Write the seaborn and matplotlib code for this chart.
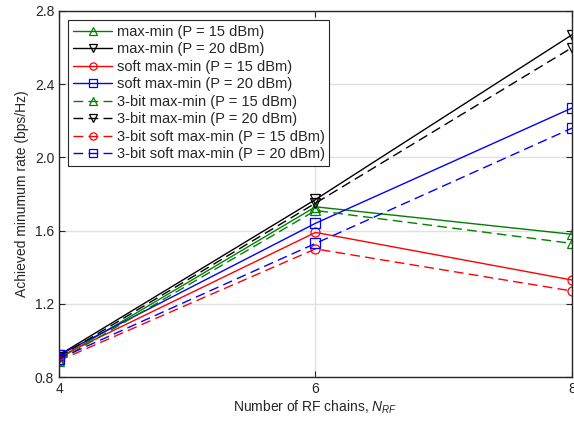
import matplotlib
matplotlib.use("Agg")
import matplotlib.pyplot as plt
import seaborn as sns
import pandas as pd

n_rf = [4, 6, 8]
maxmin_15 = [0.90, 1.73, 1.58]
maxmin_20 = [0.92, 1.77, 2.67]
soft_15 = [0.91, 1.59, 1.33]
soft_20 = [0.92, 1.64, 2.27]
bit3_maxmin_15 = [0.89, 1.71, 1.53]
bit3_maxmin_20 = [0.91, 1.75, 2.60]
bit3_soft_15 = [0.89, 1.50, 1.27]
bit3_soft_20 = [0.90, 1.53, 2.16]

labels = ["max-min (P = 15 dBm)", "max-min (P = 20 dBm)",
          "soft max-min (P = 15 dBm)", "soft max-min (P = 20 dBm)",
          "3-bit max-min (P = 15 dBm)", "3-bit max-min (P = 20 dBm)",
          "3-bit soft max-min (P = 15 dBm)", "3-bit soft max-min (P = 20 dBm)"]
series = [maxmin_15, maxmin_20, soft_15, soft_20,
          bit3_maxmin_15, bit3_maxmin_20, bit3_soft_15, bit3_soft_20]
colors = ["#008000", "black", "red", "blue", "#008000", "black", "red", "blue"]
markers = ["^", "v", "o", "s", "^", "v", "o", "s"]
dashed = (0, (7, 3.8))
styles = ["-", "-", "-", "-", dashed, dashed, dashed, dashed]

sns.set_style("white")
plt.rcParams['font.family'] = ['Liberation Sans', 'DejaVu Sans']
plt.rcParams['mathtext.fontset'] = 'custom'
plt.rcParams['mathtext.it'] = 'Liberation Sans:italic'
plt.rcParams['mathtext.rm'] = 'Liberation Sans'

fig = plt.figure(figsize=(5.74, 4.23), dpi=100)
ax = fig.add_axes([0.1028, 0.1087, 0.8937, 0.8653])

for lab, vals, c, m, ls in zip(labels, series, colors, markers, styles):
    df = pd.DataFrame({"x": n_rf, "y": vals})
    sns.lineplot(data=df, x="x", y="y", ax=ax, color=c, marker=m, linestyle=ls,
                 markersize=6.5, markerfacecolor="none", markeredgecolor=c,
                 markeredgewidth=0.9, linewidth=1.0, label=lab)

ax.set_xlim(4, 8)
ax.set_ylim(0.8, 2.8)
ax.set_xticks([4, 6, 8])
ax.set_yticks([0.8, 1.2, 1.6, 2.0, 2.4, 2.8])
ax.set_yticklabels(["0.8", "1.2", "1.6", "2.0", "2.4", "2.8"])
ax.grid(True, color="#e0e0e0", linewidth=1.0)
ax.set_axisbelow(True)
for s in ax.spines.values():
    s.set_color("#262626")
    s.set_linewidth(1.0)
    s.set_visible(True)
ax.tick_params(direction="in", length=4, labelsize=10, colors="#262626",
               top=True, right=True, bottom=True, left=True,
               labeltop=False, labelright=False)
ax.set_xlabel("Number of RF chains, $N_{RF}$", fontsize=10, color="#262626",
              labelpad=2)
ax.set_ylabel("Achieved minumum rate (bps/Hz)", fontsize=10, color="#262626")

leg = ax.legend(loc="upper left", fontsize=10.5, frameon=True, fancybox=False,
                edgecolor="#262626", framealpha=1, handlelength=2.7,
                borderaxespad=0.65, labelspacing=0.24, borderpad=0.3,
                handletextpad=0.3, markerscale=0.8)
leg.get_frame().set_linewidth(0.8)

fig.savefig("out.png", dpi=100)
